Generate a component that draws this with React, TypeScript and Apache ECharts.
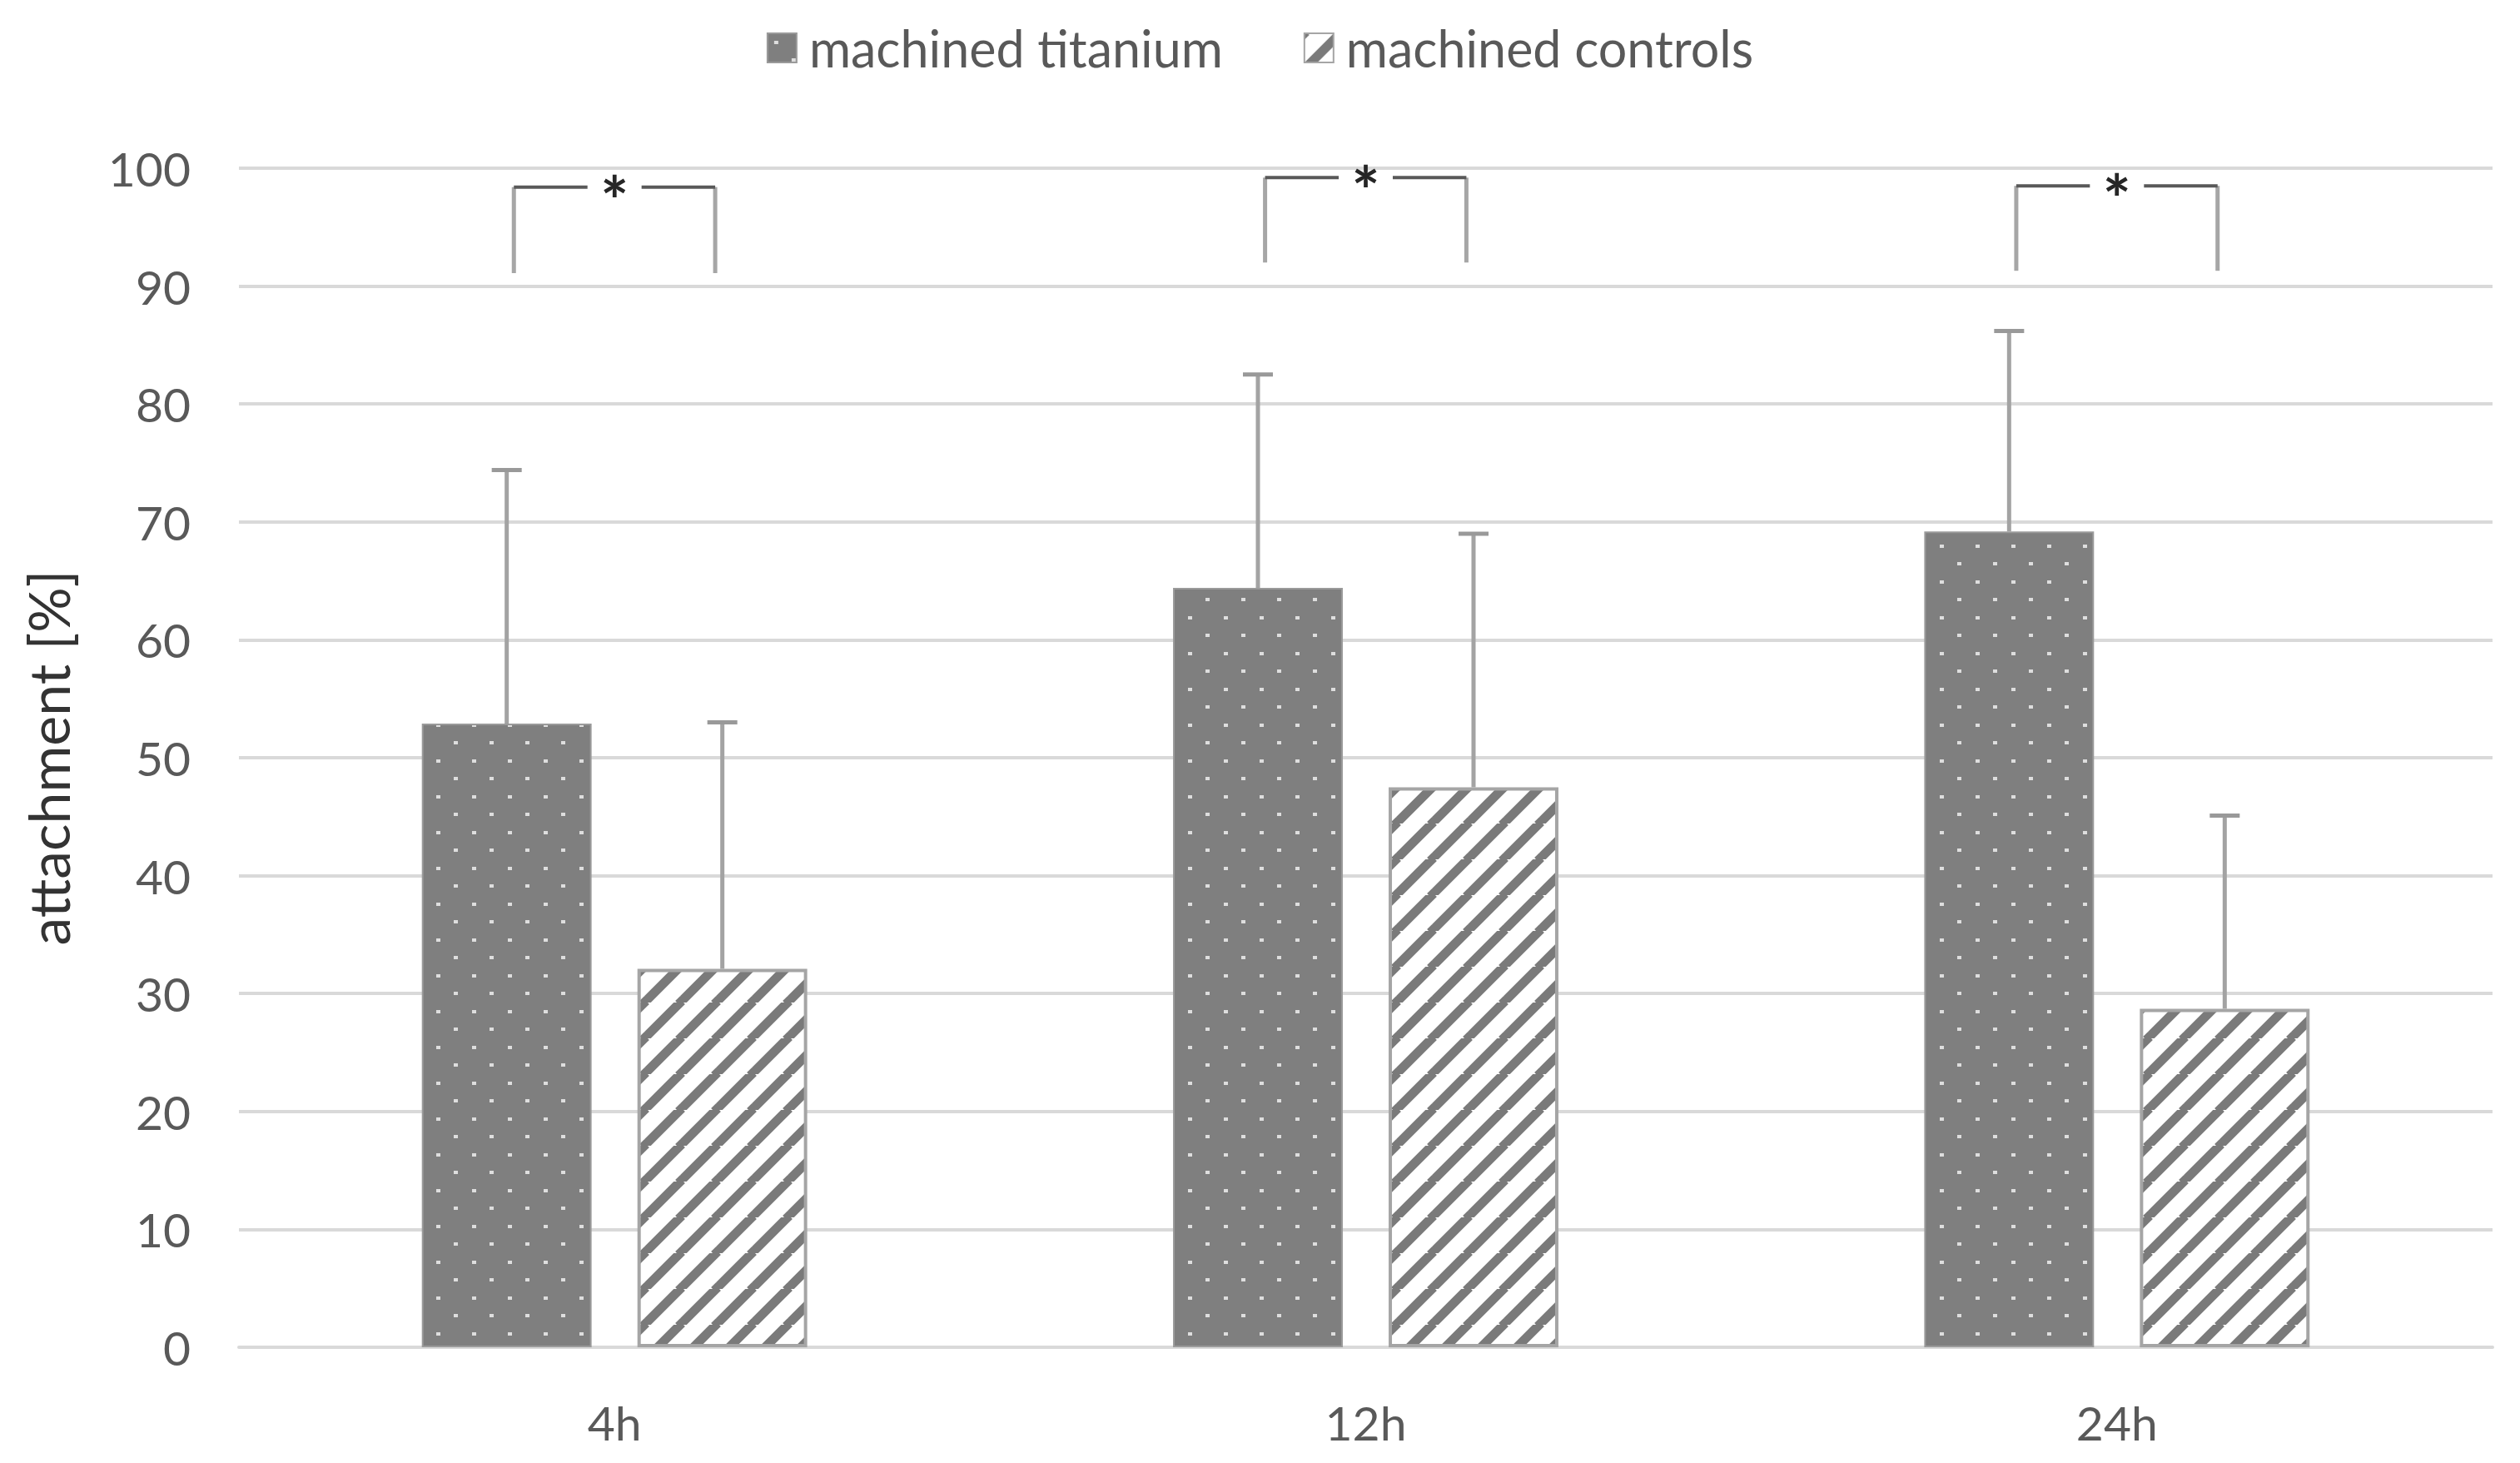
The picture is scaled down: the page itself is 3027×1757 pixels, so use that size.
import React, { useEffect, useRef } from "react";
import * as echarts from "echarts";

const categories = ["4h", "12h", "24h"];
const seriesNames = ["machined titanium", "machined controls"];
const titaniumMean = [52.9, 64.4, 69.2];
const titaniumSD = [21.5, 18.1, 17.0];
const controlsMean = [32.1, 47.5, 28.7];
const controlsSD = [20.9, 21.5, 16.4];
const bracketTop = [98.4, 99.2, 98.5];
const bracketBottom = [91.1, 92.0, 91.3];
const bracketLabel = ["*", "*", "*"];
const yMin = 0;
const yMax = 100;
const yInterval = 10;

const FONT = "Lato, 'Noto Sans', sans-serif";
const BAR_FRAC = 0.226;
const GAP_FRAC = 0.27;
const BAR_OFFSET = (BAR_FRAC + BAR_FRAC * GAP_FRAC) / 2;

function makeDots(): HTMLCanvasElement {
  const c = document.createElement("canvas");
  c.width = 43;
  c.height = 43;
  const g = c.getContext("2d")!;
  g.fillStyle = "#7f7f7f";
  g.fillRect(0, 0, 43, 43);
  g.fillStyle = "#dedede";
  g.fillRect(8, 9, 5, 4);
  g.fillRect(29, 30, 5, 4);
  return c;
}

function makeStripes(): HTMLCanvasElement {
  const P = 43;
  const c = document.createElement("canvas");
  c.width = P;
  c.height = P;
  const g = c.getContext("2d")!;
  g.fillStyle = "#ffffff";
  g.fillRect(0, 0, P, P);
  g.strokeStyle = "#7a7a7a";
  g.lineWidth = 11;
  for (let k = -1; k <= 1; k++) {
    g.beginPath();
    g.moveTo(k * P - 2, P + 2);
    g.lineTo(k * P + P + 2, -2);
    g.stroke();
  }
  return c;
}

export default function App() {
  const ref = useRef<HTMLDivElement>(null);

  useEffect(() => {
    if (!ref.current) return;
    const chart = echarts.init(ref.current, null, { renderer: "svg" });

    const dots = { image: makeDots(), repeat: "repeat", imageWidth: 43, imageHeight: 43 };
    const stripes = { image: makeStripes(), repeat: "repeat", imageWidth: 43, imageHeight: 43 };

    const errData = (means: number[], sds: number[]) =>
      categories.map((_, i) => [i, means[i], sds[i]]);

    const errRender = (sign: number) => (params: any, api: any) => {
      const idx = api.value(0);
      const m = api.value(1);
      const e = api.value(2);
      const band = api.size([1, 0])[0];
      const base = api.coord([idx, m]);
      const top = api.coord([idx, m + e]);
      const cx = base[0] + sign * band * BAR_OFFSET;
      return {
        type: "group",
        children: [
          {
            type: "line",
            shape: { x1: cx, y1: base[1], x2: cx, y2: top[1] },
            style: { stroke: "#a3a3a3", lineWidth: 5 },
          },
          {
            type: "line",
            shape: { x1: cx - 18, y1: top[1], x2: cx + 18, y2: top[1] },
            style: { stroke: "#999999", lineWidth: 5 },
          },
        ],
      };
    };

    const bracketRender = (params: any, api: any) => {
      const idx = api.value(0);
      const topV = api.value(1);
      const botV = api.value(2);
      const band = api.size([1, 0])[0];
      const t = api.coord([idx, topV]);
      const b = api.coord([idx, botV]);
      const cx = t[0];
      const half = band * 0.134;
      const gap = band * 0.036;
      const label = bracketLabel[params.dataIndex];
      return {
        type: "group",
        children: [
          {
            type: "line",
            shape: { x1: cx - half, y1: b[1], x2: cx - half, y2: t[1] },
            style: { stroke: "#a6a6a6", lineWidth: 5 },
          },
          {
            type: "line",
            shape: { x1: cx + half, y1: b[1], x2: cx + half, y2: t[1] },
            style: { stroke: "#a6a6a6", lineWidth: 5 },
          },
          {
            type: "line",
            shape: { x1: cx - half, y1: t[1], x2: cx - gap, y2: t[1] },
            style: { stroke: "#595959", lineWidth: 4 },
          },
          {
            type: "line",
            shape: { x1: cx + gap, y1: t[1], x2: cx + half, y2: t[1] },
            style: { stroke: "#595959", lineWidth: 4 },
          },
          {
            type: "text",
            style: {
              text: label,
              x: cx,
              y: t[1] + 15,
              align: "center",
              verticalAlign: "middle",
              textAlign: "center",
              textVerticalAlign: "middle",
              fill: "#262626",
              fontSize: 80,
              fontWeight: "bold",
              fontFamily: FONT,
            },
          },
        ],
      };
    };

    chart.setOption({
      animation: false,
      backgroundColor: "#ffffff",
      legend: {
        data: seriesNames,
        left: "center",
        top: 22,
        itemWidth: 35,
        itemHeight: 35,
        itemGap: 97,
        icon: "rect",
        textStyle: {
          fontFamily: FONT,
          fontSize: 61,
          color: "#595959",
          padding: [0, 0, 0, 10],
        },
      },
      grid: { left: 287, right: 33, top: 202, bottom: 139 },
      xAxis: {
        type: "category",
        data: categories,
        axisLine: { show: true, lineStyle: { color: "#d9d9d9", width: 4 } },
        axisTick: { show: false },
        axisLabel: {
          fontFamily: FONT,
          fontSize: 57,
          color: "#595959",
          margin: 61,
        },
      },
      yAxis: {
        type: "value",
        min: yMin,
        max: yMax,
        interval: yInterval,
        name: "attachment [%]",
        nameLocation: "middle",
        nameGap: 196,
        nameTextStyle: { fontFamily: FONT, fontSize: 68, color: "#333333" },
        axisLine: { show: false },
        axisTick: { show: false },
        axisLabel: {
          fontFamily: FONT,
          fontSize: 57,
          color: "#595959",
          margin: 58,
        },
        splitLine: { lineStyle: { color: "#d9d9d9", width: 4 } },
      },
      series: [
        {
          name: seriesNames[0],
          type: "bar",
          data: titaniumMean,
          barWidth: "22.6%",
          barGap: "27%",
          itemStyle: { color: dots, borderColor: "#9a9a9a", borderWidth: 2 },
          z: 2,
        },
        {
          name: seriesNames[1],
          type: "bar",
          data: controlsMean,
          barWidth: "22.6%",
          barGap: "27%",
          itemStyle: { color: stripes, borderColor: "#a5a5a5", borderWidth: 4 },
          z: 2,
        },
        {
          name: "titanium error",
          type: "custom",
          data: errData(titaniumMean, titaniumSD),
          renderItem: errRender(-1),
          z: 3,
          silent: true,
        },
        {
          name: "controls error",
          type: "custom",
          data: errData(controlsMean, controlsSD),
          renderItem: errRender(1),
          z: 3,
          silent: true,
        },
        {
          name: "significance",
          type: "custom",
          data: categories.map((_, i) => [i, bracketTop[i], bracketBottom[i]]),
          renderItem: bracketRender,
          z: 4,
          silent: true,
        },
      ],
    });

    return () => chart.dispose();
  }, []);

  return (
    <div
      ref={ref}
      style={{ position: "fixed", left: 0, top: 0, width: 3027, height: 1757, background: "#fff" }}
    />
  );
}
